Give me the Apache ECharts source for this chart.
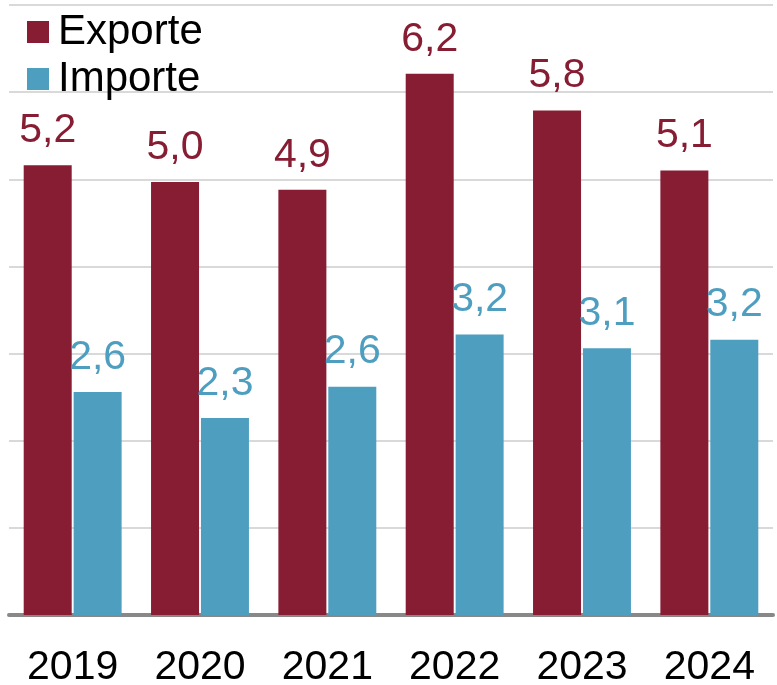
<!DOCTYPE html>
<html>
<head>
<meta charset="utf-8">
<script src="https://cdn.jsdelivr.net/npm/echarts@6/dist/echarts.min.js"></script>
<style>
  html, body { margin: 0; padding: 0; background: #ffffff; }
  #chart { width: 777px; height: 685px; }
</style>
</head>
<body>
<div id="chart"></div>
<script>
const categories = ['2019', '2020', '2021', '2022', '2023', '2024'];
const exporte = [5.16, 4.97, 4.88, 6.21, 5.79, 5.10];
const importe = [2.56, 2.26, 2.62, 3.22, 3.06, 3.16];
const seriesNames = ['Exporte', 'Importe'];

const FONT = "'Liberation Sans', Arial, Helvetica, sans-serif";
const colExp = '#871d33';
const colImp = '#4e9ec0';

const fmt = p => p.value.toFixed(1).replace('.', ',');

const chart = echarts.init(document.getElementById('chart'), null, { renderer: 'canvas' });
chart.setOption({
  animation: false,
  backgroundColor: '#ffffff',
  textStyle: { fontFamily: FONT },
  legend: {
    orient: 'vertical',
    left: 27,
    top: 11,
    padding: 0,
    itemGap: 5,
    itemWidth: 22,
    itemHeight: 22,
    icon: 'rect',
    textStyle: { fontSize: 42, color: '#000', fontFamily: FONT, padding: [0, 0, 0, 4] },
    data: seriesNames
  },
  grid: { left: 9, right: 4, top: 5, bottom: 70, containLabel: false, outerBoundsMode: 'none' },
  xAxis: {
    type: 'category',
    data: categories,
    offset: 2,
    axisLine: { show: true, lineStyle: { color: '#888888', width: 4 } },
    axisTick: { show: false },
    axisLabel: { fontSize: 41, color: '#000', fontFamily: FONT, margin: 30 }
  },
  yAxis: {
    type: 'value',
    min: 0,
    max: 7,
    interval: 1,
    axisLine: { show: false },
    axisTick: { show: false },
    axisLabel: { show: false },
    splitLine: { show: true, lineStyle: { color: '#cccccc', width: 1.5 } }
  },
  series: [
    {
      name: seriesNames[0],
      type: 'bar',
      data: exporte,
      barWidth: 48,
      barGap: '4%',
      itemStyle: { color: colExp },
      label: { show: true, position: 'top', distance: 14, formatter: fmt, fontSize: 41, color: colExp, fontFamily: FONT }
    },
    {
      name: seriesNames[1],
      type: 'bar',
      data: importe,
      barWidth: 48,
      barGap: '4%',
      itemStyle: { color: colImp },
      label: { show: true, position: 'top', distance: 14, formatter: fmt, fontSize: 41, color: colImp, fontFamily: FONT }
    }
  ]
});
</script>
</body>
</html>
